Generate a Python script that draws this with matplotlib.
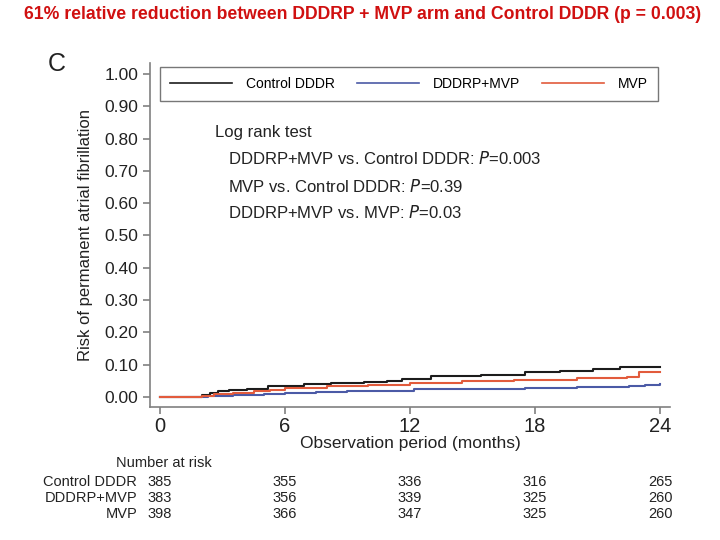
import matplotlib
matplotlib.use("Agg")
import matplotlib.pyplot as plt
from matplotlib.lines import Line2D

plt.rcParams['font.family'] = ['Liberation Sans', 'DejaVu Sans']

# step curves (months, cumulative risk)
ctrl_t = [0, 2.0, 2.4, 2.8, 3.3, 4.2, 5.2, 6.9, 8.2, 9.8, 10.9, 11.6, 13.0, 15.4, 17.5, 19.2, 20.8, 22.1, 24.0]
ctrl_y = [0, 0.006, 0.012, 0.017, 0.021, 0.024, 0.034, 0.040, 0.042, 0.045, 0.050, 0.057, 0.065, 0.068, 0.076, 0.079, 0.086, 0.092, 0.093]

combo_t = [0, 2.3, 3.5, 5.0, 6.0, 7.5, 9.0, 11.4, 12.2, 15.0, 17.5, 20.0, 22.5, 23.3, 24.0]
combo_y = [0, 0.003, 0.006, 0.010, 0.013, 0.015, 0.018, 0.020, 0.024, 0.026, 0.028, 0.030, 0.033, 0.038, 0.040]

mvp_t = [0, 2.0, 2.6, 3.5, 4.5, 5.3, 6.0, 8.0, 10.0, 12.0, 14.5, 17.0, 20.0, 22.4, 23.0, 24.0]
mvp_y = [0, 0.004, 0.009, 0.013, 0.018, 0.023, 0.029, 0.033, 0.038, 0.042, 0.048, 0.052, 0.058, 0.062, 0.077, 0.077]

risk_months = [0, 6, 12, 18, 24]
risk_ctrl = [385, 355, 336, 316, 265]
risk_combo = [383, 356, 339, 325, 260]
risk_mvp = [398, 366, 347, 325, 260]

names = ['Control DDDR', 'DDDRP+MVP', 'MVP']
colors = ['#1c1c1c', '#4b5aa6', '#e25b3c']

fig = plt.figure(figsize=(7.2, 5.4), dpi=100)
ax = fig.add_axes([0.2083, 0.2463, 0.7223, 0.637])

ax.step(ctrl_t, ctrl_y, where='post', color=colors[0], lw=1.5)
ax.step(combo_t, combo_y, where='post', color=colors[1], lw=1.5)
ax.step(mvp_t, mvp_y, where='post', color=colors[2], lw=1.5)

ax.set_xlim(-0.48, 24.48)
ax.set_ylim(-0.031, 1.034)
ax.set_xticks([0, 6, 12, 18, 24])
ax.set_yticks([i / 10 for i in range(11)])
ax.set_yticklabels([f'{i / 10:.2f}' for i in range(11)])
for s in ['top', 'right']:
    ax.spines[s].set_visible(False)
for s in ['left', 'bottom']:
    ax.spines[s].set_color('#808080')
    ax.spines[s].set_linewidth(1.2)
ax.tick_params(colors='#808080', labelcolor='#222222', labelsize=12.5, length=5, width=1.2)
ax.tick_params(axis='x', labelsize=14.5, pad=2)
ax.set_xlabel('Observation period (months)', fontsize=12.5, color='#222222', labelpad=0)
ax.set_ylabel('Risk of permanent atrial fibrillation', fontsize=12, color='#222222', labelpad=8)

# legend box across the top
handles = [Line2D([], [], color=c, lw=1.2) for c in colors]
leg = ax.legend(handles, names, ncol=3, mode='expand', loc='lower left',
                bbox_to_anchor=(0.019, 0.89, 0.958, 0.096), fontsize=10,
                handlelength=4.5, fancybox=False, edgecolor='#555555',
                borderaxespad=0, handletextpad=1.0, borderpad=0.7)
leg.get_frame().set_linewidth(1.0)

# log rank annotations
ax.text(2.65, 0.82, 'Log rank test', fontsize=12, color='#222222', va='center')
ax.text(3.25, 0.737, 'DDDRP+MVP vs. Control DDDR: $\\it{P}$=0.003', fontsize=12, color='#222222', va='center')
ax.text(3.25, 0.653, 'MVP vs. Control DDDR: $\\it{P}$=0.39', fontsize=12, color='#222222', va='center')
ax.text(3.25, 0.57, 'DDDRP+MVP vs. MVP: $\\it{P}$=0.03', fontsize=12, color='#222222', va='center')

# number at risk table
tr = ax.get_xaxis_transform()
ax.text(-2.1, -0.163, 'Number at risk', transform=tr, fontsize=10.5, color='#222222',
        va='center', clip_on=False)
rows = [risk_ctrl, risk_combo, risk_mvp]
row_y = [-0.218, -0.265, -0.311]
for name, vals, yy in zip(names, rows, row_y):
    ax.text(-1.1, yy, name, transform=tr, ha='right', va='center', fontsize=10.5,
            color='#222222', clip_on=False)
    for m, v in zip(risk_months, vals):
        ax.text(m, yy, str(v), transform=tr, ha='center', va='center', fontsize=10.5,
                color='#222222', clip_on=False)

fig.text(0.067, 0.882, 'C', fontsize=18, color='#222222', va='center')
fig.text(0.503, 0.973, '61% relative reduction between DDDRP + MVP arm and Control DDDR (p = 0.003)',
         ha='center', va='center', fontsize=12.7, fontweight='bold', color='#d01010')

fig.savefig('out.png', dpi=100)
